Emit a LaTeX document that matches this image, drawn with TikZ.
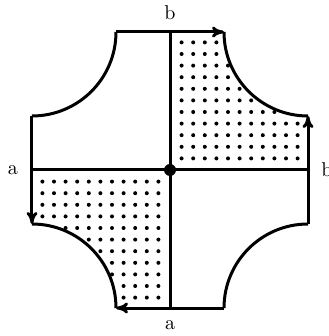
\documentclass[tikz,border=0pt]{standalone}
\usetikzlibrary{arrows.meta}
\begin{document}
\begin{tikzpicture}[x=0.5pt,y=0.5pt,
  edge/.style={line width=1.5pt},
  arrowedge/.style={line width=1.5pt,-{To[length=6pt,width=5.5pt]}},
  lbl/.style={inner sep=0pt,font=\normalsize}]
\useasboundingbox (-170,-166) rectangle (158,170);
% named corner points
\coordinate (TL1) at (-138,54);  \coordinate (TL2) at (-54,138);
\coordinate (TR1) at (54,138);   \coordinate (TR2) at (138,54);
\coordinate (BR1) at (138,-54);  \coordinate (BR2) at (54,-138);
\coordinate (BL1) at (-54,-138); \coordinate (BL2) at (-138,-54);
\coordinate (O) at (0,0);
\coordinate (E) at (138,0); \coordinate (W) at (-138,0);
\coordinate (N) at (0,138); \coordinate (S) at (0,-138);
% dots in the two shaded quadrants
\foreach \i in {1,...,11}{
  \foreach \j in {1,...,11}{
    \pgfmathsetmacro\d{veclen(138-11.6*\i,138-11.6*\j)}
    \ifdim\d pt>86pt
      \fill (11.6*\i,11.6*\j) circle[radius=2];
      \fill (-11.6*\i,-11.6*\j) circle[radius=2];
    \fi
  }
}
% arcs
\draw[edge] (TL1) arc[start angle=270,end angle=360,radius=84];
\draw[edge] (TR1) arc[start angle=180,end angle=270,radius=84];
\draw[edge] (BR1) arc[start angle=90,end angle=180,radius=84];
\draw[edge] (BL1) arc[start angle=0,end angle=90,radius=84];
% edges with arrows
\draw[arrowedge] (TL2) -- (TR1);
\draw[arrowedge] (BR1) -- (TR2);
\draw[arrowedge] (TL1) -- (BL2);
\draw[arrowedge] (BR2) -- (BL1);
% cross
\draw[edge] (W) -- (E);
\draw[edge] (S) -- (N);
\fill (O) circle[radius=6];
% labels
\node[lbl] (lt) at (0,157) {b};
\node[lbl] (lb) at (0,-155) {a};
\node[lbl] (ll) at (-157,0) {a};
\node[lbl] (lr) at (157,0) {b};
\end{tikzpicture}
\end{document}
